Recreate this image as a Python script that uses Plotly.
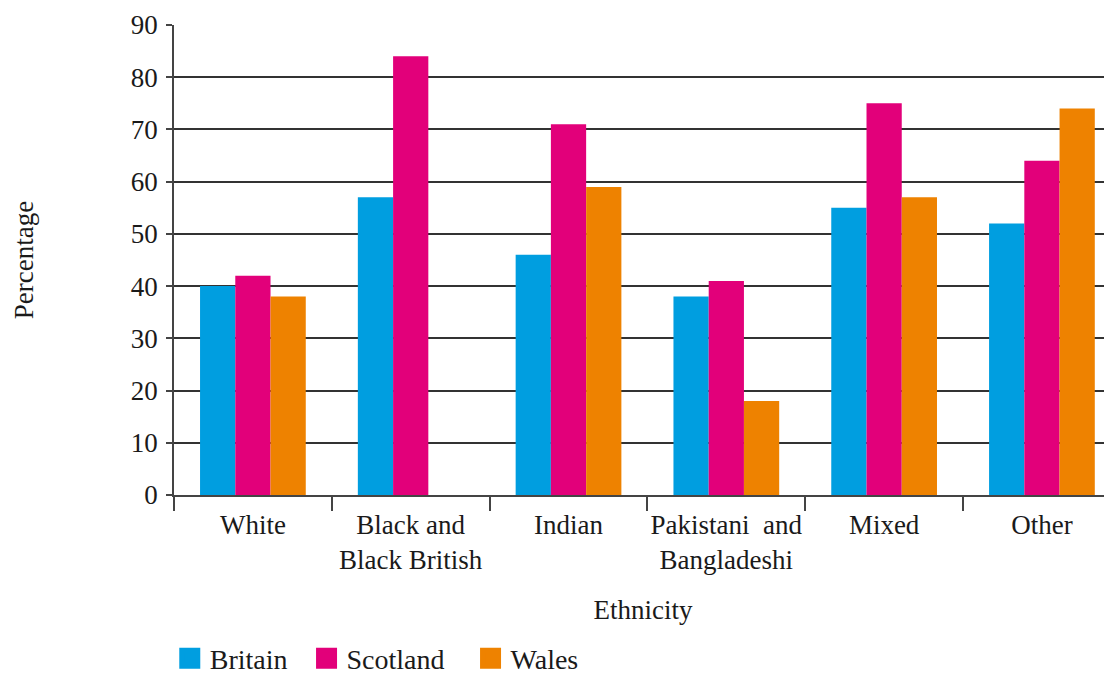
import plotly.graph_objects as go

categories = ["White", "Black and<br>Black British", "Indian", "Pakistani  and<br>Bangladeshi", "Mixed", "Other"]
britain = [40, 57, 46, 38, 55, 52]
scotland = [42, 84, 71, 41, 75, 64]
wales = [38, None, 59, 18, 57, 74]

series_names = ["Britain", "Scotland", "Wales"]
series_values = [britain, scotland, wales]
series_colors = ["#009EE0", "#E2007A", "#EE8200"]
legend_pad = ["\u00a0\u00a0", "\u00a0\u00a0\u00a0", ""]

FONT = "Liberation Serif"
FS = 27

fig = go.Figure()
for name, vals, col in zip(series_names, series_values, series_colors):
    fig.add_trace(go.Bar(x=categories, y=vals, name=name, showlegend=False,
                         marker=dict(color=col, line=dict(width=0))))
for name, pad, col in zip(series_names, legend_pad, series_colors):
    fig.add_trace(go.Scatter(x=[categories[0]], y=[None], name=name + pad, mode="markers",
                             marker=dict(symbol="square", size=16, color=col,
                                         line=dict(color=col, width=5))))

# page body has an 8px margin, so the figure is sized 8px smaller
fig.update_layout(
    width=1104, height=667,
    margin=dict(l=166, r=0, t=17, b=180, autoexpand=False),
    plot_bgcolor="white", paper_bgcolor="white",
    barmode="group", bargap=0.33, bargroupgap=0,
    font=dict(family=FONT, size=FS, color="#1a1a1a"),
    showlegend=True,
    legend=dict(orientation="h", x=-0.0045, xanchor="left", y=-0.348, yanchor="middle",
                font=dict(family=FONT, size=28, color="#1a1a1a"), itemwidth=30,
                traceorder="normal", itemsizing="trace", tracegroupgap=0),
    xaxis=dict(
        range=[-0.5, 5.444], tickson="boundaries", ticks="outside", ticklen=14,
        tickcolor="#444", tickwidth=1.5, showline=True, linecolor="#444", linewidth=1.5,
        showgrid=False, tickfont=dict(family=FONT, size=FS), automargin=False,
        ticklabelstandoff=5, tickangle=0,
        title=dict(text="Ethnicity", font=dict(family=FONT, size=FS), standoff=26),
    ),
    yaxis=dict(
        range=[0, 90], tickvals=[0,10,20,30,40,50,60,70,80,90], ticks="outside", ticklen=6,
        tickcolor="#444", tickwidth=1.5, showline=True, linecolor="#444", linewidth=1.5,
        showgrid=True, gridcolor="#333", gridwidth=1.5, zeroline=False,
        tickfont=dict(family=FONT, size=FS), automargin=False, ticklabelstandoff=3,
        title=dict(text="Percentage", font=dict(family=FONT, size=FS), standoff=89),
    ),
)

fig.write_html("out.html")
